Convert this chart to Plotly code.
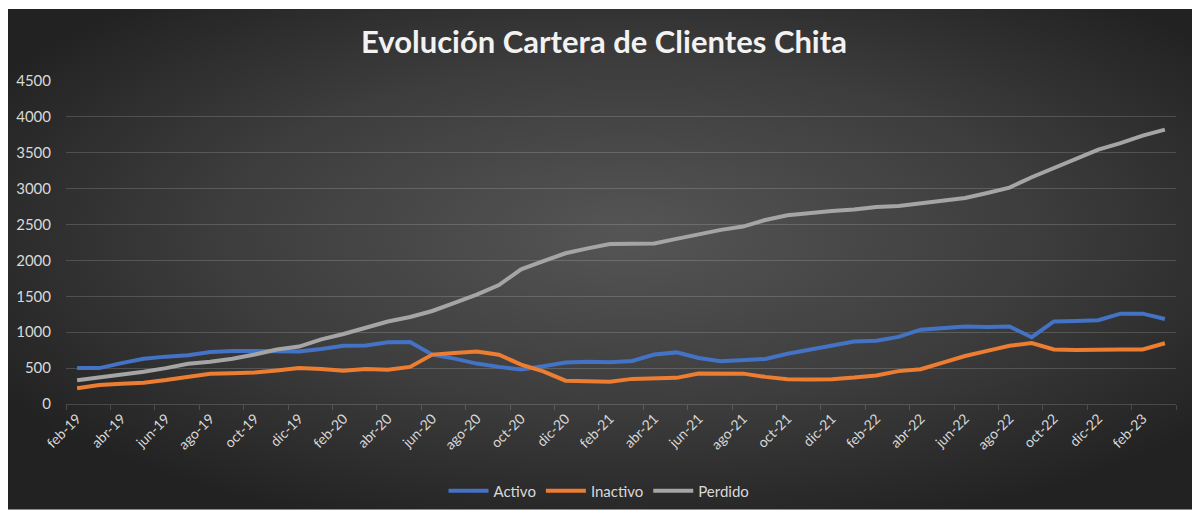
import base64
import plotly.graph_objects as go

months = [
    "feb-19", "mar-19", "abr-19", "may-19", "jun-19", "jul-19", "ago-19", "sep-19", "oct-19", "nov-19",
    "dic-19", "ene-20", "feb-20", "mar-20", "abr-20", "may-20", "jun-20", "jul-20", "ago-20", "sep-20",
    "oct-20", "nov-20", "dic-20", "ene-21", "feb-21", "mar-21", "abr-21", "may-21", "jun-21", "jul-21",
    "ago-21", "sep-21", "oct-21", "nov-21", "dic-21", "ene-22", "feb-22", "mar-22", "abr-22", "may-22",
    "jun-22", "jul-22", "ago-22", "sep-22", "oct-22", "nov-22", "dic-22", "ene-23", "feb-23", "mar-23",
]

activo = [
    500, 500, 570, 630, 660, 680, 725, 740, 740, 730,
    730, 765, 810, 815, 860, 865, 687, 632, 563, 517,
    481, 526, 578, 590, 583, 600, 690, 719, 641, 595,
    609, 627, 700, 755, 815, 870, 882, 935, 1035, 1053,
    1080, 1074, 1080, 930, 1150, 1158, 1168, 1259, 1259, 1185,
]

inactivo = [
    220, 265, 282, 297, 333, 380, 421, 430, 440, 468,
    500, 486, 464, 486, 478, 517, 688, 710, 732, 687,
    549, 455, 325, 318, 311, 350, 362, 364, 424, 428,
    423, 378, 345, 343, 345, 368, 398, 458, 485, 577,
    668, 740, 812, 850, 760, 753, 750, 760, 760, 847,
]

perdido = [
    330, 370, 405, 450, 500, 560, 590, 630, 690, 760,
    800, 900, 975, 1060, 1150, 1213, 1296, 1410, 1524, 1657,
    1877, 1991, 2100, 2168, 2229, 2234, 2237, 2300, 2365, 2426,
    2472, 2564, 2630, 2665, 2690, 2710, 2745, 2760, 2793, 2838,
    2870, 2939, 3015, 3159, 3290, 3420, 3545, 3635, 3740, 3823,
]

series = [
    ("Activo", activo, "#4472C4"),
    ("Inactivo", inactivo, "#ED7D31"),
    ("Perdido", perdido, "#A5A5A5"),
]

FONT = "Lato"
TEXT = "#D9D9D9"
GRID = "rgba(255,255,255,0.16)"

# page body has an 8px margin, so the figure is sized to fit the window
W, H = 1192, 511
L, R, T, B = 58, 24, 73, 111
pw, ph = W - L - R, H - T - B

# dark radial background, as an inline svg image
svg = (
    '<svg xmlns="http://www.w3.org/2000/svg" width="1192" height="507" viewBox="0 0 1192 507" '
    'preserveAspectRatio="none"><defs><radialGradient id="g" cx="52%" cy="45%" r="62%">'
    '<stop offset="0" stop-color="#555555"/><stop offset="0.55" stop-color="#3d3d3d"/>'
    '<stop offset="1" stop-color="#222222"/></radialGradient></defs>'
    '<rect width="1192" height="507" fill="url(#g)"/></svg>'
)
bg_src = "data:image/svg+xml;base64," + base64.b64encode(svg.encode()).decode()

fig = go.Figure()
for name, vals, color in series:
    fig.add_trace(go.Scatter(
        x=months, y=vals, name=name, mode="lines",
        line=dict(color=color, width=4),
    ))

fig.update_layout(
    width=W, height=H,
    margin=dict(l=L, r=R, t=T, b=B, pad=0),
    paper_bgcolor="white",
    plot_bgcolor="rgba(0,0,0,0)",
    font=dict(family=FONT, color=TEXT),
    title=dict(
        text="<b>Evolución Cartera de Clientes Chita</b>",
        x=0.5, xanchor="center", y=1 - 34 / H, yanchor="middle",
        font=dict(family=FONT, size=31, color="#F2F2F2"),
    ),
    showlegend=True,
    legend=dict(
        orientation="h", xanchor="center", x=(591 - L) / pw,
        yanchor="middle", y=(H - B - 488) / ph,
        font=dict(family=FONT, size=15, color=TEXT),
        bgcolor="rgba(0,0,0,0)", itemwidth=40, tracegroupgap=0,
    ),
    images=[dict(
        source=bg_src, xref="paper", yref="paper",
        x=-L / pw, y=(H - B) / ph, sizex=W / pw, sizey=507 / ph,
        xanchor="left", yanchor="top", sizing="stretch", layer="below",
    )],
    xaxis=dict(
        type="category", range=[-0.5, len(months) - 0.5], automargin=False,
        tickangle=-45, dtick=2, tickson="boundaries",
        ticks="outside", ticklen=5, tickcolor=GRID,
        showline=True, linecolor=GRID, linewidth=1,
        showgrid=False, zeroline=False,
        tickfont=dict(family=FONT, size=14, color=TEXT),
    ),
    yaxis=dict(
        range=[0, 4500], dtick=500, automargin=False,
        showgrid=True, gridcolor=GRID, gridwidth=1,
        zeroline=False, showline=False, ticks="",
        ticklabelstandoff=14,
        tickfont=dict(family=FONT, size=15, color=TEXT),
    ),
)

fig.write_html("out.html")
